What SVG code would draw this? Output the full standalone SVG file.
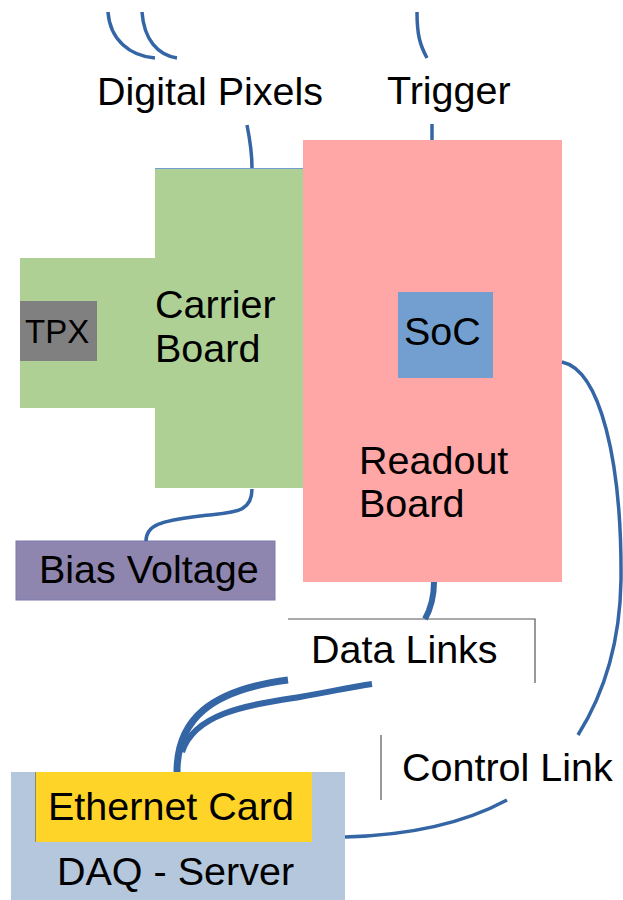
<svg xmlns="http://www.w3.org/2000/svg" width="623" height="900" viewBox="0 0 623 900">
<style>
text{font-family:"Liberation Sans",Arial,sans-serif;font-size:39.5px;fill:#000}
.c{fill:none;stroke:#3465a4;stroke-width:3.5;stroke-linecap:butt}
.thick{stroke-width:6}
.frame{fill:none;stroke:#555;stroke-width:1.2}
</style>
<rect width="623" height="900" fill="#fff"/>
<g id="carrier-board">
<path d="M155,168 H304 V488 H155 V408 H20 V258 H155 Z" fill="#afd095"/>
<line x1="155" y1="168.5" x2="304" y2="168.5" stroke="#729fcf" stroke-width="1.2"/>
<text x="155" y="318">Carrier</text>
<text x="155" y="362">Board</text>
</g>
<g id="tpx">
<rect x="20" y="301" width="77" height="60" fill="#808080"/>
<text x="25" y="343" style="font-size:33px">TPX</text>
</g>
<g id="readout-board">
<rect x="303" y="140" width="259" height="442" fill="#ffa6a6"/>
<text x="359" y="474">Readout</text>
<text x="359" y="517">Board</text>
</g>
<g id="soc">
<rect x="398" y="292" width="95" height="86" fill="#729fcf"/>
<text x="404" y="345">SoC</text>
</g>
<g id="bias-voltage">
<rect x="16" y="541" width="259" height="59" fill="#8e86ae" stroke="#7a7ab0" stroke-width="1"/>
<text x="39" y="583">Bias Voltage</text>
</g>
<g id="daq-server">
<rect x="11" y="772" width="334" height="128" fill="#b4c7dc"/>
<text x="57" y="885">DAQ - Server</text>
</g>
<g id="ethernet-card">
<rect x="35" y="772" width="277" height="70" fill="#ffd428"/>
<line x1="35.5" y1="772" x2="35.5" y2="842" stroke="#8a8a6a" stroke-width="1"/>
<text x="48" y="820">Ethernet Card</text>
</g>
<g id="labels">
<text x="97" y="105">Digital Pixels</text>
<text x="387" y="104">Trigger</text>
<text x="311" y="663">Data Links</text>
<text x="402" y="781">Control Link</text>
<path class="frame" d="M288,619 H535 V683"/>
<line class="frame" x1="381" y1="735" x2="381" y2="800"/>
</g>
<g id="connectors">
<path class="c" d="M108,12 C110,40 130,56 155,58"/>
<path class="c" d="M142,12 C144,40 158,55 177,58"/>
<path class="c" d="M247,125 C250,140 252,152 252,168"/>
<path class="c" d="M417,12 C417,35 420,45 427,58"/>
<path class="c" d="M432,124 V140"/>
<path class="c" d="M252,489 C252,515 230,512 200,516 C160,521 146,525 146,541"/>
<path class="c thick" d="M434,582 C434,600 430,610 425,619"/>
<path class="c" style="stroke-width:7" d="M177,772 C177,720 210,690 288,680"/>
<path class="c" style="stroke-width:6" d="M182,752 C195,712 250,705 300,697 C330,692 350,687 372,684"/>
<path class="c" d="M562,362 C600,370 622,460 621,580 C620,650 600,700 578,735"/>
<path class="c" d="M345,837 C420,835 470,820 507,800"/>
</g>
</svg>
